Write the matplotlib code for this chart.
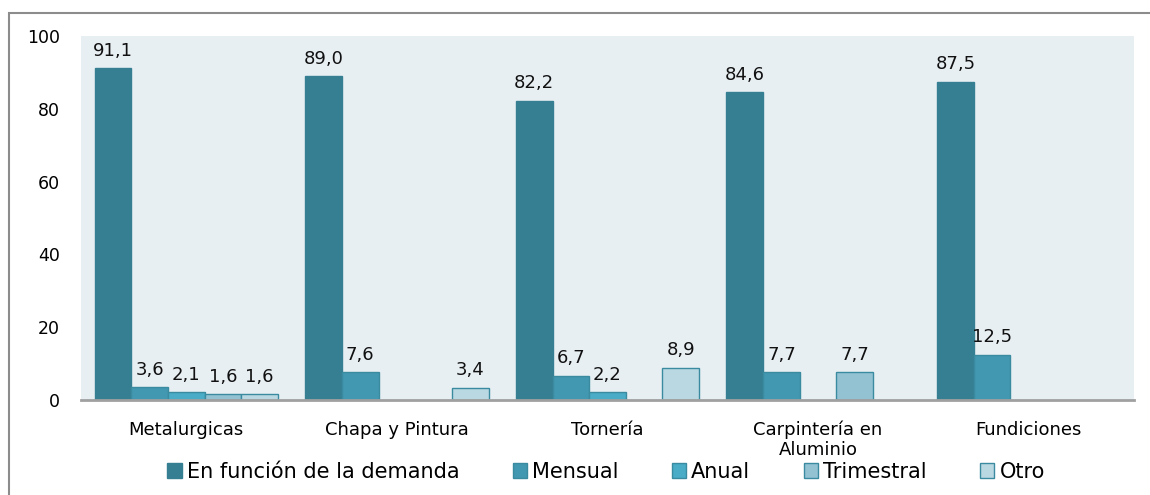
import matplotlib
matplotlib.use("Agg")
import matplotlib.pyplot as plt
from matplotlib.patches import Rectangle
import numpy as np

categories = ["Metalurgicas", "Chapa y Pintura", "Tornería", "Carpintería en\nAluminio", "Fundiciones"]
series_names = ["En función de la demanda", "Mensual", "Anual", "Trimestral", "Otro"]
demanda = [91.1, 89.0, 82.2, 84.6, 87.5]
mensual = [3.6, 7.6, 6.7, 7.7, 12.5]
anual = [2.1, None, 2.2, None, None]
trimestral = [1.6, None, None, 7.7, None]
otro = [1.6, 3.4, 8.9, None, None]
yticks = [0, 20, 40, 60, 80, 100]

colors = ["#367f93", "#4298b0", "#4aacc6", "#93c3d3", "#bad8e2"]
edge = "#3a8aa0"

plt.rcParams['font.family'] = ['DejaVu Sans']
fig = plt.figure(figsize=(11.5, 4.95), dpi=100)
ax = fig.add_axes([81/1150, 1 - 400/495, (1134-81)/1150, (400-36)/495])
ax.set_facecolor("#e8eff3")

all_series = [demanda, mensual, anual, trimestral, otro]
x = np.arange(len(categories))
w = 0.174
handles = []
for i, (vals, name, c) in enumerate(zip(all_series, series_names, colors)):
    pos_all = x + (i - 2) * w
    pos = [p for p, v in zip(pos_all, vals) if v is not None]
    h = [v for v in vals if v is not None]
    bars = ax.bar(pos, h, width=w, color=c, edgecolor=edge if i > 0 else c,
                  linewidth=1.0, label=name, zorder=3)
    for p, v in zip(pos, h):
        ax.text(p, v + 2.3, f"{v:.1f}".replace(".", ","), ha="center", va="bottom",
                fontsize=13, color="#111111")
    handles.append(bars)

ax.set_xlim(-0.5, len(categories) - 0.5)
ax.set_ylim(0, 100)
ax.set_yticks(yticks)
ax.set_xticks(x)
ax.set_xticklabels(categories, fontsize=13, linespacing=1.1)
ax.tick_params(axis="y", length=0, labelsize=12.5, pad=15)
ax.tick_params(axis="x", length=0, pad=15)
for s in ["top", "right", "left"]:
    ax.spines[s].set_visible(False)
ax.spines["bottom"].set_color("#a0a0a0")
ax.spines["bottom"].set_linewidth(2)
ax.spines["bottom"].set_zorder(4)

leg = fig.legend(handles=handles, labels=series_names, loc="center",
                 bbox_to_anchor=(606/1150, 1 - 472/495), ncol=5, frameon=False,
                 fontsize=15, handlelength=0.7, handleheight=0.7,
                 handletextpad=0.24, columnspacing=2.55, borderpad=0)

fig.patches.append(Rectangle((9/1150, -0.1), 1.2, 1 - 13/495 + 0.1,
                             transform=fig.transFigure, fill=False,
                             edgecolor="#8c8c8c", linewidth=1.5))

fig.savefig("out.png", dpi=100)
